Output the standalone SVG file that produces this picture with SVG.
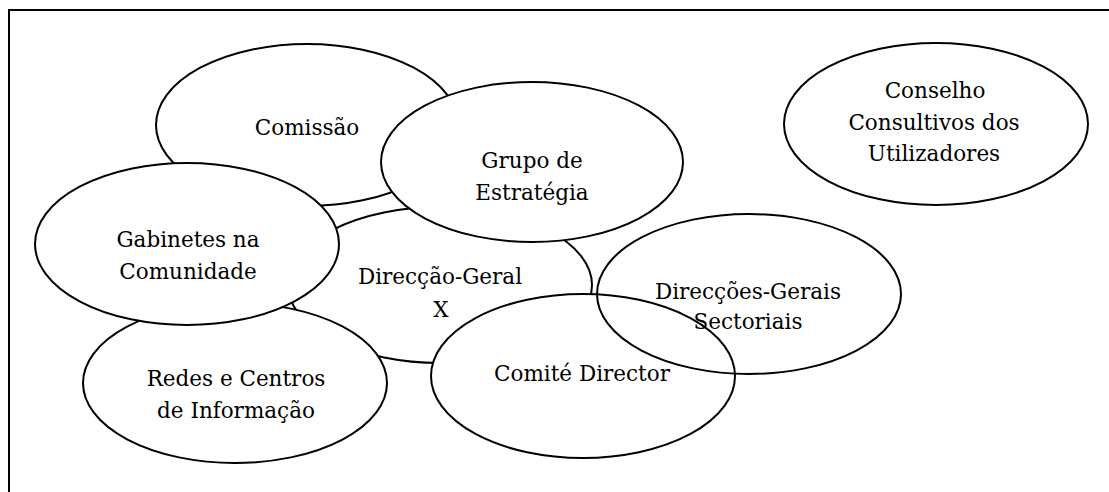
<svg xmlns="http://www.w3.org/2000/svg" width="1109" height="492" viewBox="0 0 1109 492">
  <style>
    .frame { fill: none; stroke: #000; stroke-width: 2; }
    .bubble { fill: #fff; stroke: #000; stroke-width: 2; }
    .bubble.open { fill: none; }
    .label { font-family: "DejaVu Serif", "Liberation Serif", serif; font-size: 21.5px; fill: #000; text-anchor: middle; }
  </style>
  <rect width="1109" height="492" fill="#fff"/>
  <!-- outer frame; right and bottom sides run past the page edge -->
  <rect class="frame" x="9" y="10" width="1120" height="500"/>

  <!-- no explicit connectors: relations are expressed by overlapping bubbles -->
  <g id="connectors"/>

  <g id="comissao">
    <ellipse class="bubble" cx="307" cy="125" rx="151" ry="81"/>
    <text class="label" x="307" y="135">Comissão</text>
  </g>

  <g id="direccao-geral">
    <ellipse class="bubble" cx="440" cy="285" rx="152" ry="78"/>
    <text class="label" x="440" y="284">Direcção-Geral</text>
    <text class="label" x="441" y="317">X</text>
  </g>

  <g id="redes">
    <ellipse class="bubble" cx="235" cy="383" rx="152" ry="80"/>
    <text class="label" x="236" y="386">Redes e Centros</text>
    <text class="label" x="236" y="418">de Informação</text>
  </g>

  <g id="gabinetes">
    <ellipse class="bubble" cx="187" cy="244" rx="152" ry="81"/>
    <text class="label" x="188" y="247">Gabinetes na</text>
    <text class="label" x="188" y="279">Comunidade</text>
  </g>

  <g id="grupo-estrategia">
    <ellipse class="bubble" cx="532" cy="162" rx="151" ry="80"/>
    <text class="label" x="532" y="168">Grupo de</text>
    <text class="label" x="532" y="200">Estratégia</text>
  </g>

  <g id="conselho">
    <ellipse class="bubble" cx="936" cy="124" rx="152" ry="81"/>
    <text class="label" x="935" y="98">Conselho</text>
    <text class="label" x="934" y="130">Consultivos dos</text>
    <text class="label" x="934" y="161">Utilizadores</text>
  </g>

  <g id="comite-director">
    <ellipse class="bubble" cx="583" cy="376" rx="152" ry="82"/>
    <text class="label" x="582" y="381">Comité Director</text>
  </g>

  <!-- drawn last and unfilled so the Comité outline shows through -->
  <g id="direccoes-sectoriais">
    <ellipse class="bubble open" cx="749" cy="294" rx="152" ry="80"/>
    <text class="label" x="748" y="299">Direcções-Gerais</text>
    <text class="label" x="748" y="329">Sectoriais</text>
  </g>
</svg>
